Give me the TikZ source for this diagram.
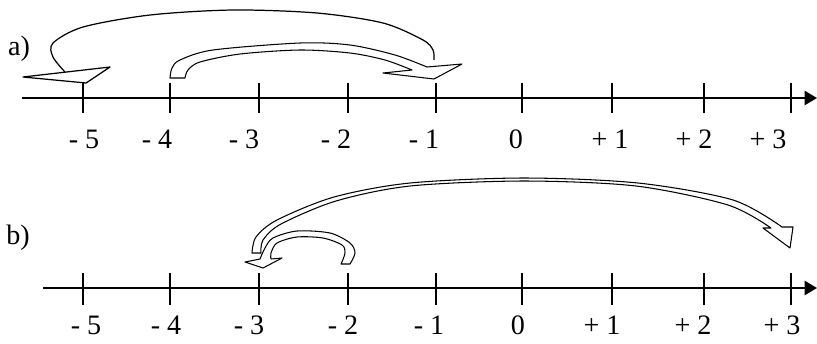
\documentclass[tikz,border=0pt]{standalone}
\usepackage{fontspec}
\setmainfont{Liberation Serif}
\usetikzlibrary{arrows.meta}

\begin{document}
\begin{tikzpicture}[x=0.02cm, y=-0.02cm,
  axis/.style={line width=1.1pt, -{Triangle[length=7pt, width=8pt]}},
  tickmark/.style={line width=0.75pt},
  num/.style={font=\fontsize{16}{18}\selectfont, inner sep=0pt},
  tag/.style={font=\fontsize{16}{18}\selectfont, inner sep=0pt},
  jump/.style={line width=0.7pt, line join=round},
  band/.style={draw, fill=white, line width=0.6pt, line join=round}
]
  \useasboundingbox (0,0) rectangle (817,343);

  % PART A
  \node[tag] (taga) at (19,49) {a)};
  \draw[axis] (22,98) -- (817,98);
  \foreach \x in {83,170,259,348,436,522,612,704,791}
    \draw[tickmark] (\x,83) -- (\x,113);

  \node[num] (la1) at (84,139) {- 5};
  \node[num] (la2) at (157,139) {- 4};
  \node[num] (la3) at (244,139) {- 3};
  \node[num] (la4) at (336,139) {- 2};
  \node[num] (la5) at (424,139) {- 1};
  \node[num] (la6) at (516,139) {0};
  \node[num] (la7) at (610,139) {+ 1};
  \node[num] (la8) at (694,139) {+ 2};
  \node[num] (la9) at (768,139) {+ 3};

  % long jump from -1 back to -5
  \draw[jump] plot[smooth] coordinates {(434,60) (433,50) (423,40) (383,23) (317,13)
    (233,10) (150,15) (83,27) (53,43) (53,57) (65,72)};
  \draw[jump, fill=white] (23,77) -- (110,67) -- (86,83) -- cycle;

  % block arrow from -4 to -1
  \draw[band] plot[smooth] coordinates {(170,78) (172,68) (180,60) (213,50) (300,43)
      (350,45) (395,55) (427,67)}
    -- (462,64) -- (434,79) -- (383,73) -- (412,70)
    -- plot[smooth] coordinates {(412,70) (385,60) (350,53) (300,50) (240,54)
      (200,62) (188,70) (185,78)}
    -- cycle;

  % PART B
  \node[tag] (tagb) at (18,238) {b)};
  \draw[axis] (43,288) -- (817,288);
  \foreach \x in {83,170,259,348,436,522,612,704,791}
    \draw[tickmark] (\x,273) -- (\x,305);

  \node[num] (lb1) at (86,325) {- 5};
  \node[num] (lb2) at (166,325) {- 4};
  \node[num] (lb3) at (249,325) {- 3};
  \node[num] (lb4) at (343,325) {- 2};
  \node[num] (lb5) at (429,325) {- 1};
  \node[num] (lb6) at (518,325) {0};
  \node[num] (lb7) at (602,325) {+ 1};
  \node[num] (lb8) at (693,325) {+ 2};
  \node[num] (lb9) at (782,325) {+ 3};

  % block arrow from -3 to +3
  \draw[band] plot[smooth] coordinates {(252,253) (256,237) (277,220) (334,197)
      (410,183) (524,178) (638,183) (733,200) (782,227)}
    -- (793,227) -- (790,248) -- (763,228) -- (771,228)
    -- plot[smooth] coordinates {(771,228) (728,205) (636,186) (524,181)
      (410,186) (336,201) (281,224) (263,240) (261,253)}
    -- cycle;

  % block arrow from -2 to -3
  \draw[band] plot[smooth] coordinates {(350,264) (355,253) (350,243) (330,233)
      (297,231) (273,238) (265,248) (260,259)}
    -- (245,262) -- (263,268) -- (282,258) -- (271,259)
    -- plot[smooth] coordinates {(271,259) (271,253) (277,243) (297,237)
      (323,238) (342,245) (345,253) (341,264)}
    -- cycle;

\end{tikzpicture}
\end{document}
